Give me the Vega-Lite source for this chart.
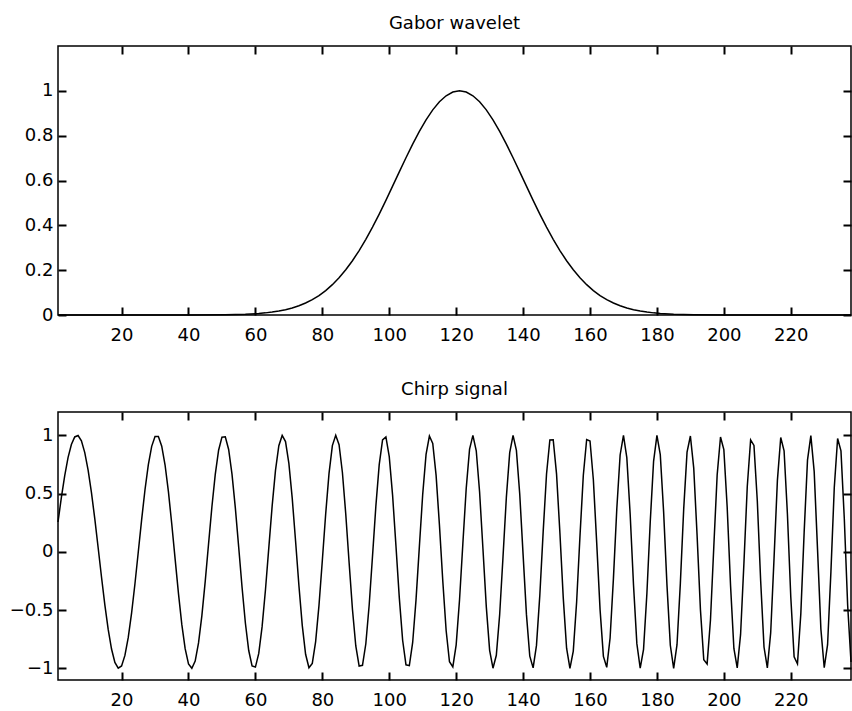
{
  "$schema": "https://vega.github.io/schema/vega-lite/v6.json",
  "background": "white",
  "padding": {"left": 8, "top": 14, "right": 2, "bottom": 5},
  "spacing": 35,
  "config": {
    "font": "DejaVu Sans",
    "view": {"stroke": "black", "strokeWidth": 1.5},
    "axis": {"grid": false, "domain": false, "labelColor": "black", "labelFontSize": 18, "labelFont": "DejaVu Sans"},
    "title": {"fontSize": 18, "fontWeight": "normal", "color": "black", "offset": 12, "anchor": "middle", "font": "DejaVu Sans"},
    "line": {"color": "black", "strokeWidth": 1.5}
  },
  "datasets": {
    "gabor": [
      {"x":1,"y":0},{"x":41,"y":0.0001},{"x":51,"y":0.0011},{"x":57,"y":0.0034},{"x":61,"y":0.0068},{"x":63,"y":0.0095},{"x":65,"y":0.013},{"x":67,"y":0.0176},{"x":69,"y":0.0236},{"x":71,"y":0.0313},{"x":73,"y":0.0411},{"x":75,"y":0.0534},{"x":77,"y":0.0685},{"x":79,"y":0.0869},{"x":81,"y":0.109},{"x":83,"y":0.1353},{"x":85,"y":0.1661},{"x":87,"y":0.2017},{"x":89,"y":0.2421},{"x":91,"y":0.2875},{"x":93,"y":0.3376},{"x":95,"y":0.3921},{"x":97,"y":0.4503},{"x":99,"y":0.5115},{"x":101,"y":0.5747},{"x":103,"y":0.6384},{"x":105,"y":0.7014},{"x":107,"y":0.7622},{"x":109,"y":0.8192},{"x":111,"y":0.8707},{"x":113,"y":0.9152},{"x":115,"y":0.9514},{"x":117,"y":0.9781},{"x":119,"y":0.9945},{"x":121,"y":1},{"x":123,"y":0.9945},{"x":125,"y":0.9781},{"x":127,"y":0.9514},{"x":129,"y":0.9152},{"x":131,"y":0.8707},{"x":133,"y":0.8192},{"x":135,"y":0.7622},{"x":137,"y":0.7014},{"x":139,"y":0.6384},{"x":141,"y":0.5747},{"x":143,"y":0.5115},{"x":145,"y":0.4503},{"x":147,"y":0.3921},{"x":149,"y":0.3376},{"x":151,"y":0.2875},{"x":153,"y":0.2421},{"x":155,"y":0.2017},{"x":157,"y":0.1661},{"x":159,"y":0.1353},{"x":161,"y":0.109},{"x":163,"y":0.0869},{"x":165,"y":0.0685},{"x":167,"y":0.0534},{"x":169,"y":0.0411},{"x":171,"y":0.0313},{"x":173,"y":0.0236},{"x":175,"y":0.0176},{"x":177,"y":0.013},{"x":179,"y":0.0095},{"x":181,"y":0.0068},{"x":185,"y":0.0034},{"x":191,"y":0.0011},{"x":201,"y":0.0001},{"x":238,"y":0}
    ],
    "chirp": [
      {"x":1,"y":0.256},{"x":2,"y":0.465},{"x":3,"y":0.652},{"x":4,"y":0.808},{"x":5,"y":0.921},{"x":6,"y":0.986},{"x":7,"y":0.998},{"x":8,"y":0.952},{"x":9,"y":0.852},{"x":10,"y":0.702},
      {"x":11,"y":0.508},{"x":12,"y":0.282},{"x":13,"y":0.035},{"x":14,"y":-0.216},{"x":15,"y":-0.455},{"x":16,"y":-0.666},{"x":17,"y":-0.834},{"x":18,"y":-0.949},{"x":19,"y":-0.998},{"x":20,"y":-0.979},
      {"x":21,"y":-0.889},{"x":22,"y":-0.735},{"x":23,"y":-0.524},{"x":24,"y":-0.274},{"x":25,"y":0.001},{"x":26,"y":0.277},{"x":27,"y":0.533},{"x":28,"y":0.748},{"x":29,"y":0.905},{"x":30,"y":0.989},
      {"x":31,"y":0.99},{"x":32,"y":0.907},{"x":33,"y":0.745},{"x":34,"y":0.516},{"x":35,"y":0.239},{"x":36,"y":-0.06},{"x":37,"y":-0.357},{"x":38,"y":-0.623},{"x":39,"y":-0.831},{"x":40,"y":-0.962},
      {"x":41,"y":-0.999},{"x":42,"y":-0.938},{"x":43,"y":-0.782},{"x":44,"y":-0.547},{"x":45,"y":-0.253},{"x":46,"y":0.069},{"x":47,"y":0.387},{"x":48,"y":0.665},{"x":49,"y":0.872},{"x":50,"y":0.984},
      {"x":51,"y":0.987},{"x":52,"y":0.878},{"x":53,"y":0.667},{"x":54,"y":0.377},{"x":55,"y":0.041},{"x":56,"y":-0.302},{"x":57,"y":-0.611},{"x":58,"y":-0.847},{"x":59,"y":-0.979},{"x":60,"y":-0.989},
      {"x":61,"y":-0.872},{"x":62,"y":-0.642},{"x":63,"y":-0.328},{"x":64,"y":0.034},{"x":65,"y":0.392},{"x":66,"y":0.699},{"x":67,"y":0.911},{"x":68,"y":0.999},{"x":69,"y":0.946},{"x":70,"y":0.759},
      {"x":71,"y":0.461},{"x":72,"y":0.093},{"x":73,"y":-0.289},{"x":74,"y":-0.631},{"x":75,"y":-0.879},{"x":76,"y":-0.995},{"x":77,"y":-0.957},{"x":78,"y":-0.77},{"x":79,"y":-0.46},{"x":80,"y":-0.074},
      {"x":81,"y":0.325},{"x":82,"y":0.673},{"x":83,"y":0.912},{"x":84,"y":1.0},{"x":85,"y":0.919},{"x":86,"y":0.681},{"x":87,"y":0.325},{"x":88,"y":-0.092},{"x":89,"y":-0.493},{"x":90,"y":-0.808},
      {"x":91,"y":-0.98},{"x":92,"y":-0.974},{"x":93,"y":-0.789},{"x":94,"y":-0.456},{"x":95,"y":-0.036},{"x":96,"y":0.393},{"x":97,"y":0.748},{"x":98,"y":0.961},{"x":99,"y":0.986},{"x":100,"y":0.817},
      {"x":101,"y":0.485},{"x":102,"y":0.052},{"x":103,"y":-0.393},{"x":104,"y":-0.759},{"x":105,"y":-0.97},{"x":106,"y":-0.977},{"x":107,"y":-0.778},{"x":108,"y":-0.412},{"x":109,"y":0.045},{"x":110,"y":0.494},
      {"x":111,"y":0.836},{"x":112,"y":0.994},{"x":113,"y":0.93},{"x":114,"y":0.656},{"x":115,"y":0.229},{"x":116,"y":-0.251},{"x":117,"y":-0.675},{"x":118,"y":-0.943},{"x":119,"y":-0.988},{"x":120,"y":-0.798},
      {"x":121,"y":-0.414},{"x":122,"y":0.072},{"x":123,"y":0.543},{"x":124,"y":0.881},{"x":125,"y":1.0},{"x":126,"y":0.867},{"x":127,"y":0.513},{"x":128,"y":0.026},{"x":129,"y":-0.47},{"x":130,"y":-0.845},
      {"x":131,"y":-0.999},{"x":132,"y":-0.888},{"x":133,"y":-0.538},{"x":134,"y":-0.042},{"x":135,"y":0.468},{"x":136,"y":0.851},{"x":137,"y":1.0},{"x":138,"y":0.87},{"x":139,"y":0.494},{"x":140,"y":-0.024},
      {"x":141,"y":-0.537},{"x":142,"y":-0.896},{"x":143,"y":-0.996},{"x":144,"y":-0.803},{"x":145,"y":-0.372},{"x":146,"y":0.171},{"x":147,"y":0.666},{"x":148,"y":0.96},{"x":149,"y":0.962},{"x":150,"y":0.667},
      {"x":151,"y":0.164},{"x":152,"y":-0.393},{"x":153,"y":-0.827},{"x":154,"y":-1.0},{"x":155,"y":-0.852},{"x":156,"y":-0.43},{"x":157,"y":0.135},{"x":158,"y":0.657},{"x":159,"y":0.964},{"x":160,"y":0.951},
      {"x":161,"y":0.619},{"x":162,"y":0.077},{"x":163,"y":-0.494},{"x":164,"y":-0.897},{"x":165,"y":-0.991},{"x":166,"y":-0.74},{"x":167,"y":-0.228},{"x":168,"y":0.365},{"x":169,"y":0.831},{"x":170,"y":1.0},
      {"x":171,"y":0.808},{"x":172,"y":0.323},{"x":173,"y":-0.284},{"x":174,"y":-0.788},{"x":175,"y":-0.999},{"x":176,"y":-0.837},{"x":177,"y":-0.358},{"x":178,"y":0.257},{"x":179,"y":0.777},{"x":180,"y":0.999},
      {"x":181,"y":0.834},{"x":182,"y":0.343},{"x":183,"y":-0.286},{"x":184,"y":-0.802},{"x":185,"y":-1.0},{"x":186,"y":-0.797},{"x":187,"y":-0.271},{"x":188,"y":0.367},{"x":189,"y":0.856},{"x":190,"y":0.994},
      {"x":191,"y":0.718},{"x":192,"y":0.142},{"x":193,"y":-0.496},{"x":194,"y":-0.926},{"x":195,"y":-0.962},{"x":196,"y":-0.585},{"x":197,"y":0.046},{"x":198,"y":0.659},{"x":199,"y":0.985},{"x":200,"y":0.877},
      {"x":201,"y":0.38},{"x":202,"y":-0.289},{"x":203,"y":-0.829},{"x":204,"y":-0.996},{"x":205,"y":-0.709},{"x":206,"y":-0.097},{"x":207,"y":0.561},{"x":208,"y":0.961},{"x":209,"y":0.913},{"x":210,"y":0.436},
      {"x":211,"y":-0.249},{"x":212,"y":-0.817},{"x":213,"y":-0.996},{"x":214,"y":-0.694},{"x":215,"y":-0.056},{"x":216,"y":0.611},{"x":217,"y":0.981},{"x":218,"y":0.867},{"x":219,"y":0.323},{"x":220,"y":-0.386},
      {"x":221,"y":-0.901},{"x":222,"y":-0.962},{"x":223,"y":-0.533},{"x":224,"y":0.169},{"x":225,"y":0.787},{"x":226,"y":0.997},{"x":227,"y":0.688},{"x":228,"y":0.019},{"x":229,"y":-0.663},{"x":230,"y":-0.995},
      {"x":231,"y":-0.797},{"x":232,"y":-0.17},{"x":233,"y":0.55},{"x":234,"y":0.973},{"x":235,"y":0.866},{"x":236,"y":0.284},{"x":237,"y":-0.458},{"x":238,"y":-0.946}
    ]
  },
  "vconcat": [
    {
      "title": "Gabor wavelet",
      "width": 793,
      "height": 269,
      "data": {"name": "gabor"},
      "layer": [
        {
          "mark": {"type": "line"},
          "encoding": {
            "x": {"field": "x", "type": "quantitative", "scale": {"domain": [1, 238], "nice": false, "zero": false}, "axis": {"orient": "bottom", "title": null, "values": [20,40,60,80,100,120,140,160,180,200,220], "format": "d", "ticks": true, "tickSize": -8, "tickWidth": 2, "tickColor": "black", "labelPadding": 19}},
            "y": {"field": "y", "type": "quantitative", "scale": {"domain": [0, 1.2], "nice": false, "zero": false}, "axis": {"orient": "left", "title": null, "values": [0,0.2,0.4,0.6,0.8,1], "format": "~g", "ticks": true, "tickSize": -8, "tickWidth": 2, "tickColor": "black", "labelPadding": 13}}
          }
        },
        {
          "mark": {"type": "line", "opacity": 0},
          "encoding": {
            "x": {"field": "x", "type": "quantitative", "scale": {"domain": [1, 238], "nice": false, "zero": false}, "axis": {"orient": "top", "title": null, "values": [20,40,60,80,100,120,140,160,180,200,220], "labels": false, "ticks": true, "tickSize": -8, "tickWidth": 2, "tickColor": "black"}},
            "y": {"field": "y", "type": "quantitative", "scale": {"domain": [0, 1.2], "nice": false, "zero": false}, "axis": {"orient": "right", "title": null, "values": [0,0.2,0.4,0.6,0.8,1], "labels": false, "ticks": true, "tickSize": -8, "tickWidth": 2, "tickColor": "black"}}
          }
        }
      ],
      "resolve": {"scale": {"x": "independent", "y": "independent"}}
    },
    {
      "title": "Chirp signal",
      "width": 793,
      "height": 268,
      "data": {"name": "chirp"},
      "layer": [
        {
          "mark": {"type": "line"},
          "encoding": {
            "x": {"field": "x", "type": "quantitative", "scale": {"domain": [1, 238], "nice": false, "zero": false}, "axis": {"orient": "bottom", "title": null, "values": [20,40,60,80,100,120,140,160,180,200,220], "format": "d", "ticks": true, "tickSize": -8, "tickWidth": 2, "tickColor": "black", "labelPadding": 19}},
            "y": {"field": "y", "type": "quantitative", "scale": {"domain": [-1.1, 1.2], "nice": false, "zero": false}, "axis": {"orient": "left", "title": null, "values": [-1,-0.5,0,0.5,1], "format": "~g", "ticks": true, "tickSize": -8, "tickWidth": 2, "tickColor": "black", "labelPadding": 13}}
          }
        },
        {
          "mark": {"type": "line", "opacity": 0},
          "encoding": {
            "x": {"field": "x", "type": "quantitative", "scale": {"domain": [1, 238], "nice": false, "zero": false}, "axis": {"orient": "top", "title": null, "values": [20,40,60,80,100,120,140,160,180,200,220], "labels": false, "ticks": true, "tickSize": -8, "tickWidth": 2, "tickColor": "black"}},
            "y": {"field": "y", "type": "quantitative", "scale": {"domain": [-1.1, 1.2], "nice": false, "zero": false}, "axis": {"orient": "right", "title": null, "values": [-1,-0.5,0,0.5,1], "labels": false, "ticks": true, "tickSize": -8, "tickWidth": 2, "tickColor": "black"}}
          }
        }
      ],
      "resolve": {"scale": {"x": "independent", "y": "independent"}}
    }
  ]
}
